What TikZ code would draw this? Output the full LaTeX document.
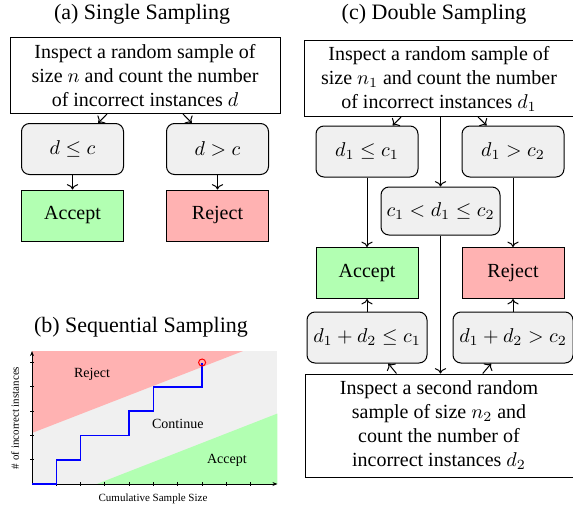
\documentclass[tikz,border=0pt]{standalone}
\usepackage{amsmath}
\usepackage{amssymb}
\usepackage{fontspec}
\setmainfont{Liberation Serif}
\usetikzlibrary{positioning, arrows.meta}

\begin{document}
\begin{tikzpicture}[x=0.5pt, y=-0.5pt, line width=0.5pt,
	textbox/.style={draw, rectangle, fill=white, align=center, minimum width=135pt, minimum height=38pt, inner sep=1pt},
	condbox/.style={draw, rectangle, rounded corners=4pt, fill=black!6, minimum width=51pt, minimum height=25.5pt, inner sep=2pt},
	acceptbox/.style={draw, rectangle, fill=green!30, minimum width=51pt, minimum height=25.5pt},
	rejectbox/.style={draw, rectangle, fill=red!30, minimum width=51pt, minimum height=25.5pt},
	title/.style={font=\fontsize{11}{13}\selectfont},
	plotlabel/.style={font=\fontsize{7}{8}\selectfont},
	axislabel/.style={font=\fontsize{5.5}{6}\selectfont}]
	\useasboundingbox (0, 0) rectangle (573, 509);

	% (a) single sampling
	\node[title] (titleA) at (142, 14) {(a) Single Sampling};
	\node[textbox] (inspectA) at (145, 75.5) {Inspect a random sample of\\ size $n$ and count the number\\ of incorrect instances $d$};
	\node[condbox] (leqA) at (72.5, 149) {$d \leq c$};
	\node[condbox] (gtA) at (217.5, 149) {$d > c$};
	\node[acceptbox] (acceptA) at (72.5, 215.5) {Accept};
	\node[rejectbox] (rejectA) at (217.5, 215.5) {Reject};
	\draw [->] (inspectA) -- (leqA);
	\draw [->] (inspectA) -- (gtA);
	\draw [->] (leqA) -- (acceptA);
	\draw [->] (gtA) -- (rejectA);

	% (c) double sampling
	\node[title] (titleC) at (434, 14) {(c) Double Sampling};
	\node[textbox] (inspectC) at (439, 78.5) {Inspect a random sample of\\ size $n_1$ and count the number\\ of incorrect instances $d_1$};
	\node[condbox] (leqC) at (367, 151.5) {$d_1 \leq c_1$};
	\node[condbox] (gtC) at (513, 151.5) {$d_1 > c_2$};
	\node[condbox, minimum width=59.5pt, minimum height=24pt] (midC) at (440.5, 211) {$c_1 < d_1 \leq c_2$};
	\node[acceptbox] (acceptC) at (367, 273) {Accept};
	\node[rejectbox] (rejectC) at (513, 273) {Reject};
	\node[condbox, minimum width=60pt] (sumleqC) at (367, 337.5) {$d_1 + d_2 \leq c_1$};
	\node[condbox, minimum width=60pt] (sumgtC) at (513, 337.5) {$d_1 + d_2 > c_2$};
	\node[textbox, minimum width=134pt, minimum height=51.5pt] (secondC) at (439, 425.5) {Inspect a second random\\ sample of size $n_2$ and\\ count the number of\\ incorrect instances $d_2$};
	\draw [->] (inspectC) -- (leqC);
	\draw [->] (inspectC) -- (gtC);
	\draw [->] (midC |- inspectC.south) -- (midC.north);
	\draw [->] (midC.south) -- (midC |- secondC.north);
	\draw [->] (leqC) -- (acceptC);
	\draw [->] (gtC) -- (rejectC);
	\draw [->] (sumleqC) -- (acceptC);
	\draw [->] (sumgtC) -- (rejectC);
	\draw [->] (secondC) -- (sumleqC);
	\draw [->] (secondC) -- (sumgtC);

	% (b) sequential sampling
	\node[title] (titleB) at (141, 327) {(b) Sequential Sampling};
	\begin{scope}[xshift=16pt, yshift=-242pt, x=12.15pt, y=12.15pt]
		\fill[black!6] (0, 0) rectangle (10.1, 5.47);
		\fill[red!30] (0, 2.1) -- (8.68, 5.47) -- (0, 5.47) -- cycle;
		\fill[green!30] (2.67, 0) -- (10.1, 2.9) -- (10.1, 0) -- cycle;
		\draw [-{Stealth[length=2.5pt, width=2pt]}] (0, 0) -- (10.1, 0);
		\draw [-{Stealth[length=2.5pt, width=2pt]}] (0, 0) -- (0, 5.47);
		\foreach \i in {1,...,9}
			\draw (\i, -0.07) -- (\i, 0.07);
		\foreach \j in {1,...,5}
			\draw (-0.07, \j) -- (0.07, \j);
		\draw [blue, line width=0.8pt] (0, 0) -- (1, 0) -- (1, 1) -- (2, 1) -- (2, 2) -- (4, 2) -- (4, 3) -- (5, 3) -- (5, 4) -- (7, 4) -- (7, 5);
		\node[circle, draw=red, inner sep=0pt, minimum size=3.5pt] (stop) at (7, 5) {};
		\node[plotlabel] (rejectB) at (2.47, 4.53) {Reject};
		\node[plotlabel] (continueB) at (6.0, 2.47) {Continue};
		\node[plotlabel] (acceptB) at (8.02, 0.99) {Accept};
		\node[axislabel] (xlabel) at (4.98, -0.62) {Cumulative Sample Size};
		\node[axislabel, rotate=90] (ylabel) at (-0.7, 2.72) {\# of incorrect instances};
	\end{scope}
\end{tikzpicture}
\end{document}
